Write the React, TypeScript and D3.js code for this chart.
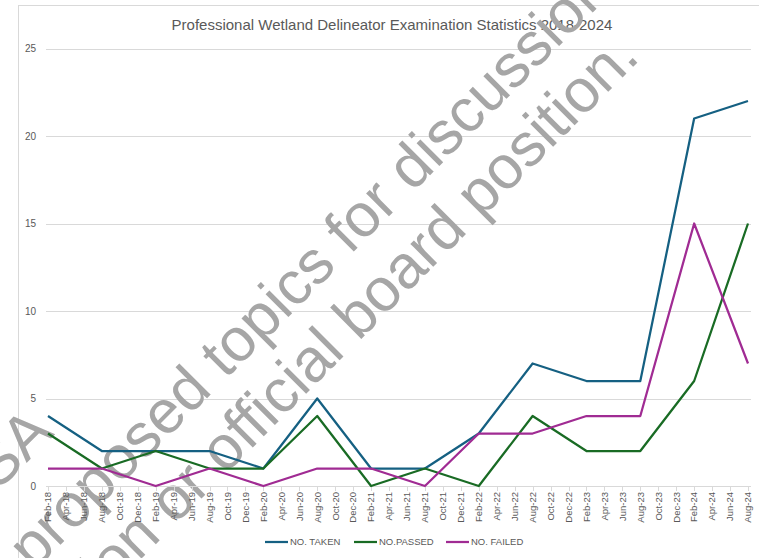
import React, { useEffect, useRef } from "react";
import * as d3 from "d3";

const title = "Professional Wetland Delineator Examination Statistics 2018-2024";

const tickLabels = [
  "Feb-18", "Apr-18", "Jun-18", "Aug-18", "Oct-18", "Dec-18",
  "Feb-19", "Apr-19", "Jun-19", "Aug-19", "Oct-19", "Dec-19",
  "Feb-20", "Apr-20", "Jun-20", "Aug-20", "Oct-20", "Dec-20",
  "Feb-21", "Apr-21", "Jun-21", "Aug-21", "Oct-21", "Dec-21",
  "Feb-22", "Apr-22", "Jun-22", "Aug-22", "Oct-22", "Dec-22",
  "Feb-23", "Apr-23", "Jun-23", "Aug-23", "Oct-23", "Dec-23",
  "Feb-24", "Apr-24", "Jun-24", "Aug-24",
];

const periods = [
  "Feb-18", "Aug-18", "Feb-19", "Aug-19", "Feb-20", "Aug-20", "Feb-21",
  "Aug-21", "Feb-22", "Aug-22", "Feb-23", "Aug-23", "Feb-24", "Aug-24",
];

const taken = [4, 2, 2, 2, 1, 5, 1, 1, 3, 7, 6, 6, 21, 22];
const passed = [3, 1, 2, 1, 1, 4, 0, 1, 0, 4, 2, 2, 6, 15];
const failed = [1, 1, 0, 1, 0, 1, 1, 0, 3, 3, 4, 4, 15, 7];

const yTicks = [0, 5, 10, 15, 20, 25];

const seriesNames = ["NO. TAKEN", "NO.PASSED", "NO. FAILED"];
const seriesColors = ["#156082", "#196B24", "#A02B93"];

const watermark = [
  "NWSA",
  "proposed topics for discussion.",
  "Not an opinion or official board position.",
];

const font = "'Liberation Sans', Arial, sans-serif";

const App = () => {
  const ref = useRef<SVGSVGElement>(null);

  useEffect(() => {
    const svg = d3.select(ref.current);
    svg.selectAll("*").remove();

    const width = 759;
    const height = 558;

    const x = d3.scalePoint<string>().domain(tickLabels).range([48, 748]);
    const y = d3.scaleLinear().domain([0, 25]).range([486, 48.5]);

    // chart frame
    svg.append("rect")
      .attr("x", 18.5)
      .attr("y", 5.5)
      .attr("width", width)
      .attr("height", height)
      .attr("fill", "white")
      .attr("stroke", "#d9d9d9");

    // title
    svg.append("text")
      .attr("x", 392)
      .attr("y", 30)
      .attr("text-anchor", "middle")
      .attr("font-family", font)
      .attr("font-size", 15)
      .attr("fill", "#595959")
      .text(title);

    // y grid
    svg.append("g")
      .selectAll("line")
      .data(yTicks.filter((d) => d > 0))
      .enter()
      .append("line")
      .attr("x1", 46)
      .attr("x2", 751)
      .attr("y1", (d) => Math.round(y(d)) + 0.5)
      .attr("y2", (d) => Math.round(y(d)) + 0.5)
      .attr("stroke", "#d9d9d9")
      .attr("stroke-width", 1);

    // watermark (rotated -45deg), end point given as [along, across]
    const wmEnds = [
      [-268, 346],
      [457, 428],
      [412, 495],
    ];
    svg.append("g")
      .selectAll("text")
      .data(watermark)
      .enter()
      .append("text")
      .attr("transform", (d, i) => {
        const [t, n] = wmEnds[i];
        const px = (n + t) / Math.SQRT2;
        const py = (n - t) / Math.SQRT2;
        return `translate(${px},${py}) rotate(-45)`;
      })
      .attr("text-anchor", "end")
      .attr("font-family", font)
      .attr("font-size", 61)
      .attr("fill", "#a6a6a6")
      .text((d) => d);

    // y labels
    svg.append("g")
      .selectAll("text")
      .data(yTicks)
      .enter()
      .append("text")
      .attr("x", 36)
      .attr("y", (d) => y(d))
      .attr("dy", "0.35em")
      .attr("text-anchor", "end")
      .attr("font-family", font)
      .attr("font-size", 10)
      .attr("fill", "#595959")
      .text((d) => d);

    // x axis line + ticks
    svg.append("line")
      .attr("x1", 46)
      .attr("x2", 751)
      .attr("y1", 486.5)
      .attr("y2", 486.5)
      .attr("stroke", "#d9d9d9");

    svg.append("g")
      .selectAll("line")
      .data(tickLabels)
      .enter()
      .append("line")
      .attr("x1", (d) => Math.round(x(d)!) + 0.5)
      .attr("x2", (d) => Math.round(x(d)!) + 0.5)
      .attr("y1", 486)
      .attr("y2", 491)
      .attr("stroke", "#d9d9d9");

    // x labels
    svg.append("g")
      .selectAll("text")
      .data(tickLabels)
      .enter()
      .append("text")
      .attr("transform", (d) => `translate(${x(d)},492) rotate(-90)`)
      .attr("dy", "0.35em")
      .attr("text-anchor", "end")
      .attr("font-family", font)
      .attr("font-size", 9.5)
      .attr("fill", "#595959")
      .text((d) => d);

    // lines
    const series = [taken, passed, failed];
    const line = d3.line<number>()
      .x((d, i) => x(periods[i])!)
      .y((d) => y(d));

    svg.append("g")
      .selectAll("path")
      .data(series)
      .enter()
      .append("path")
      .attr("d", (d) => line(d))
      .attr("fill", "none")
      .attr("stroke", (d, i) => seriesColors[i])
      .attr("stroke-width", 2.25)
      .attr("stroke-linejoin", "round");

    // legend
    const legendX = [265, 354, 446];
    const legend = svg.append("g")
      .selectAll("g")
      .data(seriesNames)
      .enter()
      .append("g")
      .attr("transform", (d, i) => `translate(${legendX[i]},542)`);

    legend.append("line")
      .attr("x1", 0)
      .attr("x2", 23)
      .attr("stroke", (d, i) => seriesColors[i])
      .attr("stroke-width", 2.25);

    legend.append("text")
      .attr("x", 25)
      .attr("dy", "0.35em")
      .attr("font-family", font)
      .attr("font-size", 9.5)
      .attr("fill", "#595959")
      .text((d) => d);
  }, []);

  return (
    <svg
      ref={ref}
      width={759}
      height={558}
      style={{ position: "absolute", left: 0, top: 0 }}
    ></svg>
  );
};

export default App;
